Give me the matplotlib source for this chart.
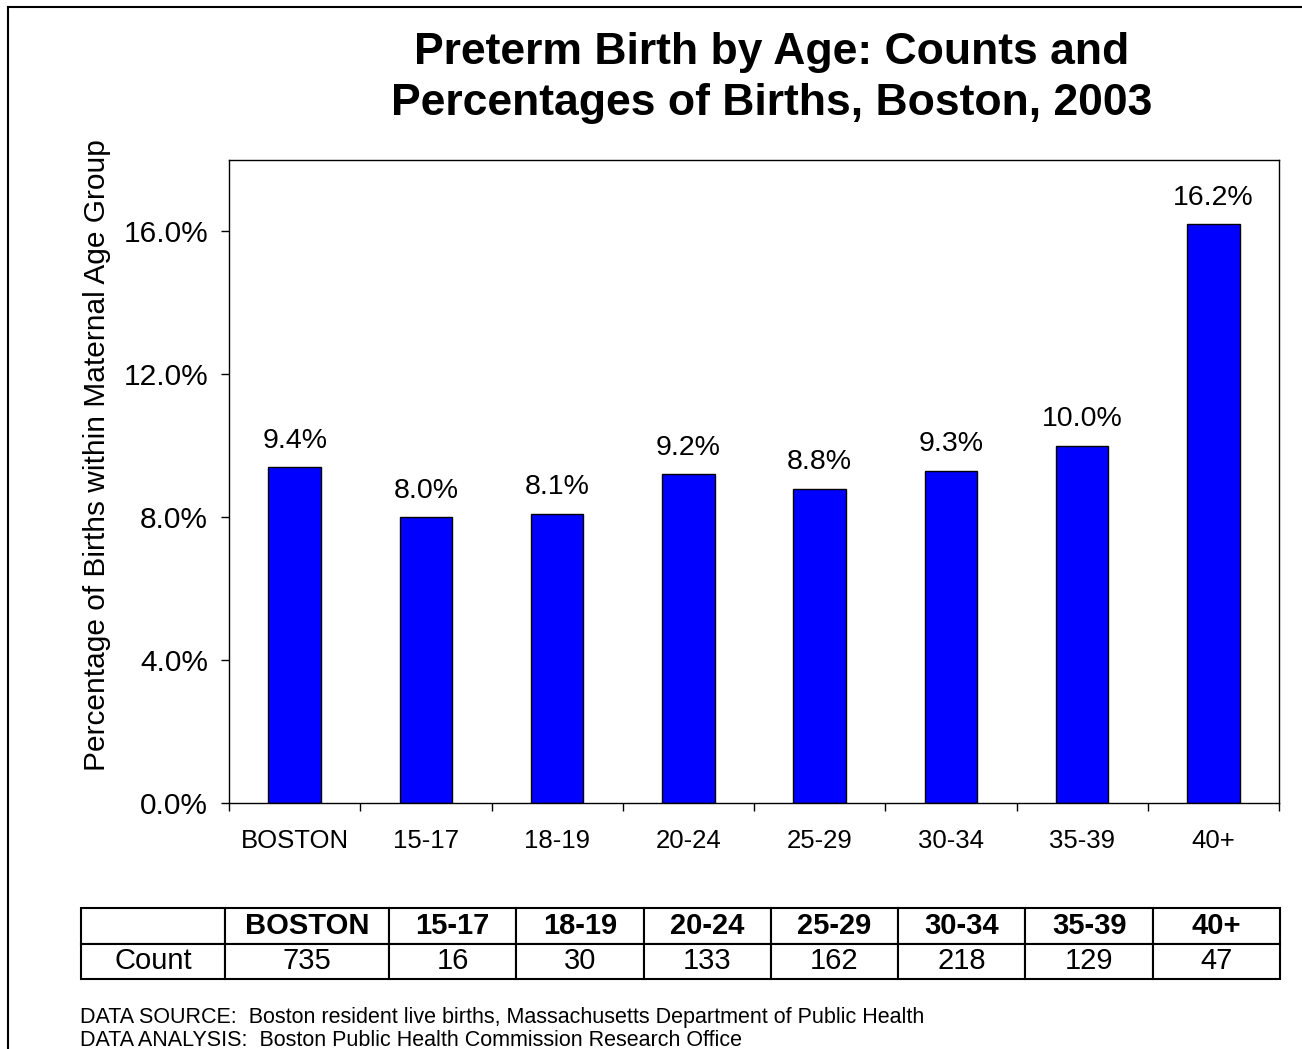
import matplotlib
matplotlib.use('Agg')
import matplotlib.pyplot as plt
import numpy as np
from matplotlib.lines import Line2D

plt.rcParams['font.family'] = ['Liberation Sans', 'DejaVu Sans']

groups = ['BOSTON', '15-17', '18-19', '20-24', '25-29', '30-34', '35-39', '40+']
pct_preterm = [9.4, 8.0, 8.1, 9.2, 8.8, 9.3, 10.0, 16.2]
counts = [735, 16, 30, 133, 162, 218, 129, 47]
y_ticks = [0, 4, 8, 12, 16]

W, H = 1302, 1049
fig = plt.figure(figsize=(W / 100, H / 100), dpi=100)
ax = fig.add_axes([229 / W, 1 - 803 / H, 1050 / W, 643 / H])

x = np.arange(len(groups))
bars = ax.bar(x, pct_preterm, width=0.4, color='#0000FF', edgecolor='black', linewidth=1.0)
for xi, v in zip(x, pct_preterm):
    ax.annotate('%.1f%%' % v, (xi, v), xytext=(0, 14), textcoords='offset points',
                ha='center', va='baseline', fontsize=20.5)

ax.set_xlim(-0.5, len(groups) - 0.5)
ax.set_ylim(0, 18)
ax.set_yticks(y_ticks)
ax.set_yticklabels(['%.1f%%' % t for t in y_ticks])
ax.set_xticks(x)
ax.set_xticklabels(groups)
ax.set_xticks(np.arange(len(groups) + 1) - 0.5, minor=True)
ax.tick_params(axis='x', which='major', length=0, pad=19, labelsize=18.5)
ax.tick_params(axis='x', which='minor', length=6, width=1, direction='out')
ax.tick_params(axis='y', length=6, width=1, direction='out', pad=9, labelsize=21.5)
for s in ax.spines.values():
    s.set_linewidth(1.0)
    s.set_color('black')

fig.text(97 / W, 1 - 455 / H, 'Percentage of Births within Maternal Age Group',
         rotation=90, ha='center', va='center', fontsize=21.5)

fig.text(772 / W, 1 - 78 / H, 'Preterm Birth by Age: Counts and\nPercentages of Births, Boston, 2003',
         ha='center', va='center', fontsize=32, fontweight='bold', linespacing=1.32)

# counts table under the axis; the BOSTON column is a little wider than the rest
col_px = [225 - 81, 389 - 225] + [(1280 - 389) / 7] * 7
col_w = [c / 1050 for c in col_px]
tbl = ax.table(cellText=[[''] + groups, ['Count'] + [str(c) for c in counts]],
               cellLoc='center', colWidths=col_w,
               bbox=[(81 - 229) / 1050, (803 - 979) / 643, sum(col_w), 71 / 643])
tbl.auto_set_font_size(False)
for (r, c), cell in tbl.get_celld().items():
    cell.set_linewidth(1.5)
    cell.set_edgecolor('black')
    cell.set_text_props(fontsize=21, fontweight='bold' if (r == 0 and c > 0) else 'normal')

fig.text(80 / W, 1 - 1017 / H,
         'DATA SOURCE:  Boston resident live births, Massachusetts Department of Public Health',
         ha='left', va='center', fontsize=15.5)
fig.text(80 / W, 1 - 1040 / H, 'DATA ANALYSIS:  Boston Public Health Commission Research Office',
         ha='left', va='center', fontsize=15.5)

# page frame along the left and top edges
fig.add_artist(Line2D([8 / W, 8 / W], [0, 1 - 7 / H], color='black', linewidth=1.5))
fig.add_artist(Line2D([8 / W, 1], [1 - 7 / H, 1 - 7 / H], color='black', linewidth=1.5))

fig.savefig('out.png', dpi=100)
